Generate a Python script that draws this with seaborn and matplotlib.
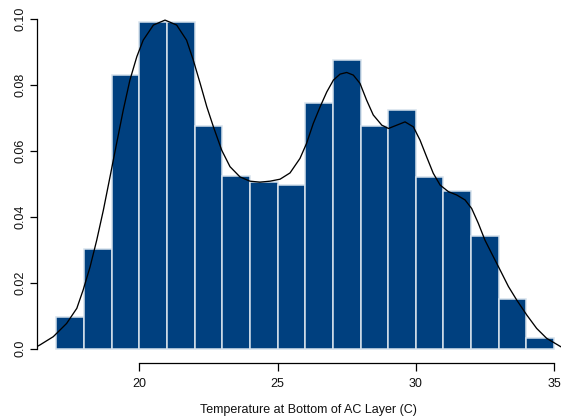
import numpy as np
import pandas as pd
import matplotlib
matplotlib.use("Agg")
import matplotlib.pyplot as plt
import seaborn as sns

# Histogram bins (1 degree wide) and their densities
bin_edges = [17, 18, 19, 20, 21, 22, 23, 24, 25, 26, 27, 28, 29, 30, 31, 32, 33, 34, 35]
bin_density = [0.0095, 0.0303, 0.0829, 0.0991, 0.0991, 0.0675, 0.0524, 0.0504, 0.0495,
               0.0744, 0.0875, 0.0674, 0.0723, 0.0521, 0.0477, 0.0343, 0.0149, 0.0033]

# Kernel density estimate of the temperature (x, density)
kde_x = [16.30, 16.41, 16.89, 17.37, 17.74, 17.97, 18.22, 18.46, 18.70, 18.94, 19.18,
         19.42, 19.66, 19.91, 20.14, 20.51, 20.93, 21.35, 21.71, 21.95, 22.20, 22.44,
         22.68, 22.98, 23.28, 23.64, 24.00, 24.36, 24.73, 25.09, 25.45, 25.81, 26.05,
         26.29, 26.54, 26.78, 27.02, 27.26, 27.50, 27.74, 27.98, 28.22, 28.46, 28.77,
         29.01, 29.31, 29.61, 29.91, 30.15, 30.39, 30.63, 30.88, 31.18, 31.48, 31.78,
         32.02, 32.26, 32.50, 32.74, 33.05, 33.35, 33.65, 34.01, 34.37, 34.73, 35.25]
kde_y = [0.0006, 0.0011, 0.0036, 0.0076, 0.0122, 0.0178, 0.0248, 0.0329, 0.0420, 0.0521,
         0.0623, 0.0724, 0.0815, 0.0886, 0.0936, 0.0982, 0.0997, 0.0982, 0.0936, 0.0876,
         0.0805, 0.0734, 0.0673, 0.0602, 0.0552, 0.0521, 0.0508, 0.0505, 0.0508, 0.0514,
         0.0533, 0.0577, 0.0623, 0.0683, 0.0734, 0.0779, 0.0815, 0.0833, 0.0838, 0.0830,
         0.0805, 0.0754, 0.0709, 0.0678, 0.0668, 0.0678, 0.0688, 0.0673, 0.0633, 0.0582,
         0.0532, 0.0496, 0.0476, 0.0466, 0.0451, 0.0425, 0.0380, 0.0329, 0.0289, 0.0238,
         0.0188, 0.0147, 0.0102, 0.0061, 0.0031, 0.0005]

x_ticks = [20, 25, 30, 35]
y_ticks = [0.0, 0.02, 0.04, 0.06, 0.08, 0.10]
y_tick_labels = ["0.0", "0.02", "0.04", "0.06", "0.08", "0.10"]
x_label = "Temperature at Bottom of AC Layer (C)"

sns.set_theme(style="white")
plt.rcParams["font.family"] = ["Liberation Sans", "DejaVu Sans"]

W, H = 561, 419
fig = plt.figure(figsize=(W / 100, H / 100), dpi=100)
ax = fig.add_axes([37 / W, (H - 363) / H, (W - 37) / W, 363 / H])

centers = [(a + b) / 2 for a, b in zip(bin_edges[:-1], bin_edges[1:])]
hist_df = pd.DataFrame({"temp": centers, "density": bin_density})
sns.histplot(data=hist_df, x="temp", weights="density", bins=bin_edges, stat="count",
             color="#00407f", edgecolor="#d6e1ec", linewidth=1.1, alpha=1.0, ax=ax)

kde_df = pd.DataFrame({"temp": kde_x, "density": kde_y})
sns.lineplot(data=kde_df, x="temp", y="density", color="black", linewidth=0.95,
             sort=False, ax=ax)

ax.set_xlim(16.30, 35.25)
ax.set_ylim(-0.0044, 0.1058)
ax.set_xlabel("")
ax.set_ylabel("")

for side in ["top", "right"]:
    ax.spines[side].set_visible(False)
for side in ["left", "bottom"]:
    ax.spines[side].set_color("black")
    ax.spines[side].set_linewidth(0.9)
ax.spines["bottom"].set_bounds(20, 35)
ax.spines["left"].set_bounds(0, 0.10)

ax.set_xticks(x_ticks)
ax.set_xticklabels([str(t) for t in x_ticks])
ax.set_yticks(y_ticks)
ax.set_yticklabels(y_tick_labels, rotation=90, va="center")
ax.tick_params(axis="both", direction="out", length=5.4, width=0.9, color="black",
               labelsize=9, labelcolor="#111111", bottom=True, left=True)
ax.tick_params(axis="x", pad=5.5)
ax.tick_params(axis="y", pad=2.5)

fig.text(308 / W, (H - 410) / H, x_label, ha="center", va="center", fontsize=9,
         color="#111111")

fig.savefig("out.png", dpi=100)
